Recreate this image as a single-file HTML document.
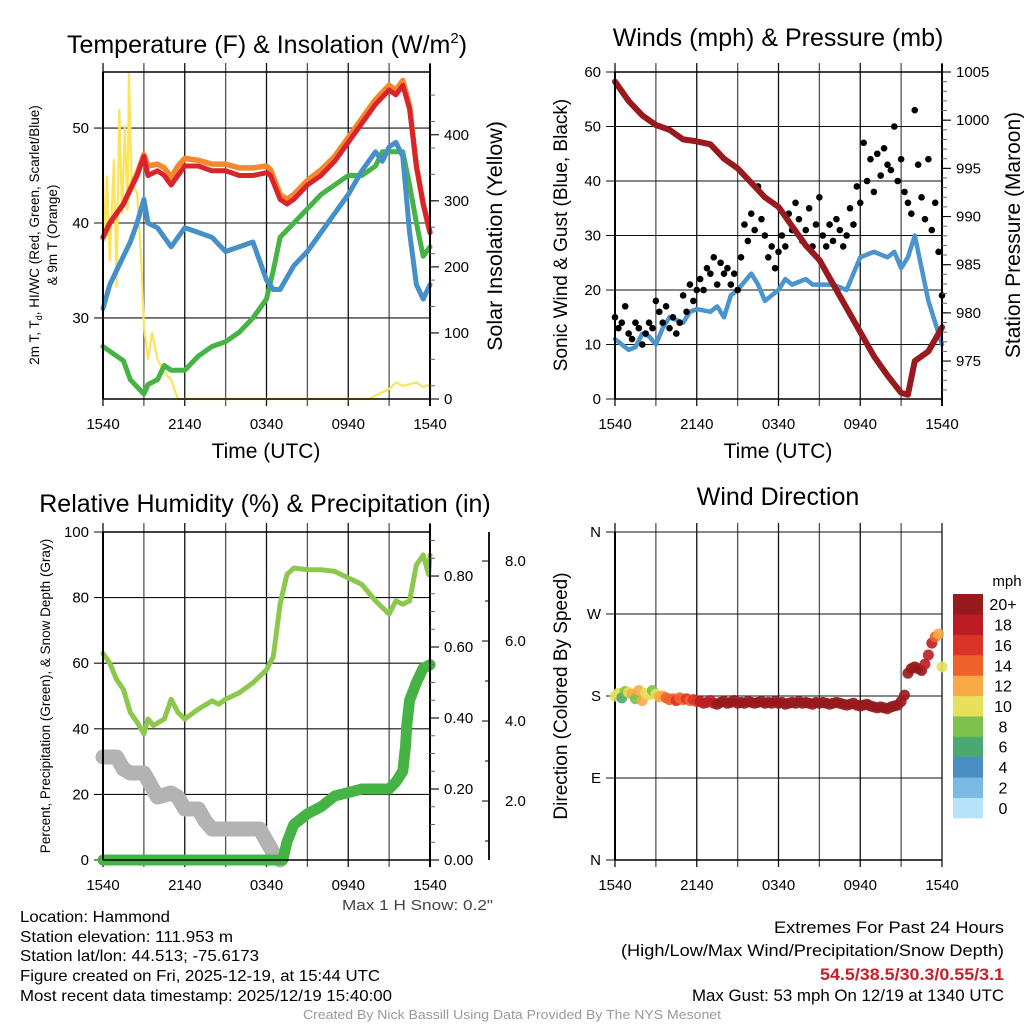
<!DOCTYPE html>
<html><head><meta charset="utf-8"><style>
html,body{margin:0;padding:0;background:#fff}
svg{display:block;font-family:"Liberation Sans",sans-serif}
</style></head><body>
<svg id="s" width="1024" height="1024" viewBox="0 0 1024 1024">
<g id="texts" font-family="Liberation Sans, sans-serif">
<text x="267" y="53" font-size="25" text-anchor="middle">Temperature (F) &amp; Insolation (W/m<tspan dy="-10" font-size="15">2</tspan><tspan dy="10">)</tspan></text>
<text x="778" y="46" font-size="25" text-anchor="middle">Winds (mph) &amp; Pressure (mb)</text>
<text x="265" y="512" font-size="25" text-anchor="middle">Relative Humidity (%) &amp; Precipitation (in)</text>
<text x="778" y="505" font-size="25" text-anchor="middle">Wind Direction</text>
<text transform="translate(39,235) rotate(-90)" font-size="13.5" text-anchor="middle">2m T, T<tspan font-size="9" dy="3">d</tspan><tspan dy="-3">, HI/WC (Red, Green, Scarlet/Blue)</tspan></text>
<text transform="translate(57,235) rotate(-90)" font-size="13.5" text-anchor="middle">&amp; 9m T (Orange)</text>
<text transform="translate(502,236) rotate(-90)" font-size="21.5" text-anchor="middle">Solar Insolation (Yellow)</text>
<text transform="translate(567,235) rotate(-90)" font-size="19" text-anchor="middle">Sonic Wind &amp; Gust (Blue, Black)</text>
<text transform="translate(1020,235) rotate(-90)" font-size="21" text-anchor="middle">Station Pressure (Maroon)</text>
<text transform="translate(50,696) rotate(-90)" font-size="13.5" text-anchor="middle">Percent, Precipitation (Green), &amp; Snow Depth (Gray)</text>
<text transform="translate(567,696) rotate(-90)" font-size="19" text-anchor="middle">Direction (Colored By Speed)</text>
<text x="266" y="458" font-size="21" text-anchor="middle">Time (UTC)</text>
<text x="778" y="458" font-size="21" text-anchor="middle">Time (UTC)</text>
<text x="342" y="910" font-size="15" textLength="151" lengthAdjust="spacingAndGlyphs" fill="#444">Max 1 H Snow: 0.2"</text>
<text x="20" y="922" font-size="16" textLength="150" lengthAdjust="spacingAndGlyphs">Location: Hammond</text>
<text x="20" y="942" font-size="16" textLength="213" lengthAdjust="spacingAndGlyphs">Station elevation: 111.953 m</text>
<text x="20" y="961" font-size="16" textLength="239" lengthAdjust="spacingAndGlyphs">Station lat/lon: 44.513; -75.6173</text>
<text x="20" y="981" font-size="16" textLength="360" lengthAdjust="spacingAndGlyphs">Figure created on Fri, 2025-12-19, at 15:44 UTC</text>
<text x="20" y="1001" font-size="16" textLength="372" lengthAdjust="spacingAndGlyphs">Most recent data timestamp: 2025/12/19 15:40:00</text>
<text x="774" y="933" font-size="17" textLength="230" lengthAdjust="spacingAndGlyphs">Extremes For Past 24 Hours</text>
<text x="621" y="956" font-size="17" textLength="383" lengthAdjust="spacingAndGlyphs">(High/Low/Max Wind/Precipitation/Snow Depth)</text>
<text x="820" y="980" font-size="17" textLength="184" lengthAdjust="spacingAndGlyphs" font-weight="bold" fill="#c8202a">54.5/38.5/30.3/0.55/3.1</text>
<text x="692" y="1001" font-size="17" textLength="312" lengthAdjust="spacingAndGlyphs">Max Gust: 53 mph On 12/19 at 1340 UTC</text>
<text x="303" y="1019" font-size="13" textLength="418" lengthAdjust="spacingAndGlyphs" fill="#999">Created By Nick Bassill Using Data Provided By The NYS Mesonet</text>
<text x="1007" y="586" font-size="15" text-anchor="middle">mph</text>
</g>
</svg>
<script>
// ---------- data ----------
const timeTickHours=[0,6,12,18,24];
const timeTickLabels=['1540','2140','0340','0940','1540'];
const tempTicks=[30,40,50];
const solarTicks=[0,100,200,300,400];
const windTicks=[0,10,20,30,40,50,60];
const presTicks=[975,980,985,990,995,1000,1005];
const rhTicks=[0,20,40,60,80,100];
const precipTicks=[0,0.2,0.4,0.6,0.8];
const precipTickLabels=['0.00','0.20','0.40','0.60','0.80'];
const snowTicks=[2,4,6,8];
const snowTickLabels=['2.0','4.0','6.0','8.0'];
const dirTicks=[0,90,180,270,360];
const dirTickLabels=['N','E','S','W','N'];
const speedBins=['0','2','4','6','8','10','12','14','16','18','20+'];
const speedColors=['#b6e3f7','#7ab9e3','#4a8fc4','#4aa871','#7cc14b','#e6e05a','#f7aa47','#f0622b','#dc3328','#bd1c24','#971a1c'];

const redHours=[0,0.5,1,1.5,2,2.5,3,3.3,4,4.5,5,5.5,6,7,8,9,10,11,12,12.3,13,13.5,14,15,16,17,18,19,20,21,21.5,22,22.5,23,23.5,24];
const redTemp=[38.5,40,41,42,43.5,45,47,45,45.5,45,44,45,46,46,45.5,45.5,45,45,45.3,45,42.5,42,42.5,44,45,46.5,48.5,50.5,52.5,54,53.5,54.5,52,46,42,39];
const orangeTemp=[38.5,40,41,42,43.6,45.2,47.2,46,46.2,45.8,44.8,46,46.8,46.6,46.2,46.2,45.8,45.8,46,45.6,43,42.5,43,44.5,45.6,47,49,51,53,54.5,54,55,52.3,46,42,39];
const blueHours=[0,0.5,1,1.5,2,2.5,3,3.3,4,5,6,7,8,9,10,11,11.5,12,12.5,13,14,15,16,17,18,19,20,20.5,21,21.5,22,22.5,23,23.5,24];
const blueTemp=[31,33.5,35,36.5,38,40,42.5,40,39.5,37.5,39.5,39,38.5,37,37.5,38,36,34,33,33,35.5,37,39,41,43,45.5,47.5,46.5,48,48.5,47,39,33.5,32,33.5];
const greenHours=[0,1,1.5,2,3,3.3,4,4.5,5,6,7,8,9,10,11,12,12.5,13,14,15,16,17,18,19,20,20.5,21,22,22.5,23,23.5,24];
const greenTemp=[27,26,25.5,23.5,22,23,23.5,25,24.5,24.5,26,27,27.5,28.5,30,32,35,38.5,40,41.5,43,44,45,45,46,47.5,47.5,47.5,44,40,36.5,37.5];
const solarHours=[0,0.15,0.3,0.5,0.8,1,1.2,1.4,1.6,1.8,1.9,2.1,2.5,2.8,3,3.3,3.6,4,4.5,5,5.5,19.5,20,21,21.5,22,23,23.5,24];
const solarVals=[339,240,337,210,362,170,438,281,413,286,494,327,312,210,110,60,100,60,40,29,0,0,5,15,25,20,25,18,22];

const windHours=[0,0.5,1,1.5,2,2.5,3,3.5,4,5,5.5,6,7,7.5,8,8.5,9,10,10.5,11,12,12.5,13,14,14.5,15,16,17,17.5,18,19,20,20.5,21,21.5,22,22.5,23,23.5,24];
const windVals=[11,10,9,9.5,12,11.5,10,13,15,14,16,16.5,16,17,15,19,20,23,21,18,20,22,21,22,21,21,21,20,23,26,27,26,27,24,26,30,24,18,14,10];
const presHours=[0,1,2,3,4,5,6,7,8,9,10,11,12,13,14,15,16,17,18,19,20,21,21.5,22,23,24];
const presVals=[1004,1002,1000.5,999.5,999,998,997.8,997.5,996,995,993.5,992,991,989,987,985.5,983,980.5,978,975.5,973.5,971.7,971.5,975,976,978.5];
const gustVals=[15,13,14,17,12,11,14,13,10,12,14,13,18,16,14,17,13,15,12,14,19,16,21,18,20,22,20,24,23,26,21,25,23,24,21,23,20,26,32,29,34,31,39,33,30,26,28,24,27,30,28,34,31,36,33,29,31,35,28,32,37,30,28,32,29,33,31,28,30,35,32,39,36,47,40,44,38,45,41,46,43,42,50,40,44,38,36,34,53,43,37,33,44,31,36,27,19];

const rhHours=[0,0.5,1,1.5,2,2.5,3,3.3,3.7,4.5,5,5.5,6,7,8,8.5,9,10,11,12,12.5,13,13.5,14,15,16,17,18,19,20,21,21.5,22,22.5,23,23.5,23.9,24];
const rhVals=[63,60,55,52,45,42,38.5,43,41,43,49,45,43,46,48.5,47.5,49,51,54,58,62,78,87,89,88.5,88.5,88,86,84,79,75,79,78,79,90,93,87,93];
const precipHours=[0,13.2,13.5,14,15,16,17,18,19,20,21,21.5,22,22.2,22.3,22.5,23,23.5,24];
const precipVals=[0,0,0.05,0.10,0.13,0.15,0.18,0.19,0.20,0.20,0.20,0.22,0.25,0.32,0.38,0.45,0.50,0.54,0.55];
const snowHours=[0,1,1.5,2,3,3.5,4,5,5.5,6,7,7.5,8,11.5,12,12.5,13];
const snowVals=[3.1,3.1,2.8,2.7,2.7,2.4,2.1,2.2,2.1,1.8,1.8,1.5,1.3,1.3,1.0,0.7,0.5];

const dirVals=[180,183,178,185,184,182,177,186,175,183,181,186,182,179,180,178,176,177,175,178,176,177,175,176,174,
174,172,173,175,172,171,173,174,172,173,175,172,173,172,174,173,172,173,174,172,173,172,174,172,173,171,172,173,172,174,172,173,172,171,173,172,173,172,171,172,173,172,171,170,171,172,170,169,170,171,169,168,167,168,167,166,168,169,170,174,
181,205,210,212,210,208,215,225,238,245,248,212];
const dirSpeeds=[10,10,7,8,10,12,8,12,12,10,10,8,10,12,13,14,15,14,16,14,14,16,15,16,17,
18,18,19,18,19,20,20,20,20,20,21,20,20,20,21,20,20,21,20,20,20,20,21,20,20,20,20,21,20,20,20,20,21,20,20,20,20,21,20,20,20,20,21,20,20,20,20,21,20,20,20,20,20,21,20,20,20,20,20,20,
20,20,20,20,20,20,19,18,18,14,12,10];

// ---------- drawing ----------
const NS='http://www.w3.org/2000/svg';
const svg=document.getElementById('s');
function mk(tag,attrs,parent){const e=document.createElementNS(NS,tag);for(const k in attrs)e.setAttribute(k,attrs[k]);(parent||svg).appendChild(e);return e;}
function lin(d0,d1,r0,r1){return v=>r0+(v-d0)/(d1-d0)*(r1-r0);}

function panel(name,x0,x1,y0,y1){
  const g=mk('g',{});
  
  
  const x=lin(0,24,x0,x1);
  return {g,x,x0,x1,y0,y1};
}
function grid(p,yTicks,ys){
  for(let h=0;h<=24;h+=3){
    const l=mk('line',{x1:p.x(h),x2:p.x(h),y1:p.y0-9,y2:p.y1+7,stroke:(h%6==0)?'#111':'#555','stroke-width':1.3},p.g);
    
    
  }
  yTicks.forEach(v=>{
    const l=mk('line',{x1:p.x0-9,x2:p.x1,y1:ys(v),y2:ys(v),stroke:'#111','stroke-width':1.1},p.g);
    
    
  });
}
function frame(p,top){
  if(top!==false){const t=mk('line',{x1:p.x0,x2:p.x1,y1:p.y0,y2:p.y0,stroke:'#000','stroke-width':1.5},p.g);
  
  }
  const b=mk('line',{x1:p.x0,x2:p.x1,y1:p.y1,y2:p.y1,stroke:'#000','stroke-width':1.5},p.g);
  
  
  const l=mk('line',{x1:p.x0,x2:p.x0,y1:p.y0,y2:p.y1,stroke:'#000','stroke-width':2},p.g);
  
  
}
function rightAxis(p,ticks,labels,ys,minor,minorScale){
  const l=mk('line',{x1:p.x1,x2:p.x1,y1:p.y0-8,y2:p.y1+7,stroke:'#000','stroke-width':2},p.g);
  
  
  if(minor)minor.forEach(v=>{const t=mk('line',{x1:p.x1,x2:p.x1+5,y1:minorScale(v),y2:minorScale(v),stroke:'#666','stroke-width':1},p.g);
    
    });
  ticks.forEach((v,i)=>{
    const t=mk('line',{x1:p.x1,x2:p.x1+9,y1:ys(v),y2:ys(v),stroke:'#000','stroke-width':1.1},p.g);
    
    
    const tx=mk('text',{x:p.x1+14,y:ys(v)+5,'font-size':15},p.g);
    
    
    tx.textContent=labels[i];
  });
}
function leftLabels(p,ticks,labels,ys){
  ticks.forEach((v,i)=>{
    const tx=mk('text',{x:p.x0-14,y:ys(v)+5,'font-size':15,'text-anchor':'end'},p.g);
    
    
    tx.textContent=labels[i];
  });
}
function xLabels(p){
  timeTickHours.forEach((h,i)=>{
    const tx=mk('text',{x:p.x(h),y:p.y1+30,'font-size':15,'text-anchor':'middle'},p.g);
    
    
    tx.textContent=timeTickLabels[i];
  });
}
function line(p,hours,vals,ys,color,w,name,clampY){
  const pts=hours.map((h,i)=>{let y=ys(vals[i]);if(clampY!==undefined)y=Math.min(y,clampY);return p.x(h).toFixed(1)+','+y.toFixed(1);}).join(' ');
  const e=mk('polyline',{points:pts,fill:'none',stroke:color,'stroke-width':w,'stroke-linejoin':'round','stroke-linecap':'round'},p.g);
  
  
}
function speedColor(s){let i=Math.floor(s/2);if(i>10)i=10;if(i<0)i=0;return speedColors[i];}

// Panel 1: temperature
{
  const p=panel('temperature-panel',103,430,72,399);
  const yT=lin(21.47,55.9,399,72), yS=lin(0,495,399,72);
  grid(p,tempTicks,yT);
  line(p,solarHours,solarVals,yS,'#fde35a',2.2,'solar-line');
  line(p,greenHours,greenTemp,yT,'#46b345',5,'dewpoint-line');
  line(p,blueHours,blueTemp,yT,'#4590c9',5,'windchill-line');
  line(p,redHours,orangeTemp,yT,'#f5882c',5.5,'temp-9m-line');
  line(p,redHours,redTemp,yT,'#d8242a',5,'temp-2m-line');
  frame(p);
  const minors=[];for(let v=20;v<=480;v+=40)minors.push(v);
  rightAxis(p,solarTicks,solarTicks.map(String),yS,minors,yS);
  leftLabels(p,tempTicks,tempTicks.map(String),yT);
  xLabels(p);
}
// Panel 2: winds
{
  const p=panel('wind-panel',615,942,72,399);
  const yW=lin(0,60,399,72), yP=lin(971.06,1005,399,72);
  grid(p,windTicks,yW);
  line(p,windHours,windVals,yW,'#4a94d0',4.5,'sonic-wind-line');
  gustVals.forEach((v,i)=>{
    const c=mk('circle',{cx:p.x(i*0.25),cy:yW(v),r:3.3,fill:'#000'},p.g);
    
    
  });
  line(p,presHours,presVals,yP,'#991a1e',6,'pressure-line');
  frame(p);
  const minors=[];for(let v=972;v<=1005;v+=1)minors.push(v);
  rightAxis(p,presTicks,presTicks.map(String),yP,minors,yP);
  leftLabels(p,windTicks,windTicks.map(String),yW);
  xLabels(p);
}
// Panel 3: RH & precip
{
  const p=panel('humidity-panel',103,430,532,860);
  const yR=lin(0,100,860,532), yPr=lin(0,0.924,860,532), ySn=lin(0,2,881,801);
  grid(p,rhTicks,yR);
  line(p,snowHours,snowVals,ySn,'#b3b3b3',15,'snow-depth-line',860);
  line(p,rhHours,rhVals,yR,'#8cc84b',5,'rh-line');
  line(p,precipHours,precipVals,yPr,'#45b445',11,'precip-line');
  frame(p,true);
  const minors=[];for(let v=0.05;v<0.92;v+=0.05)minors.push(v);
  rightAxis(p,precipTicks,precipTickLabels,yPr,minors,yPr);
  leftLabels(p,rhTicks,rhTicks.map(String),yR);
  const ax=mk('line',{x1:489,x2:489,y1:532,y2:860,stroke:'#000','stroke-width':1.8},p.g);
  
  
  for(let v=1;v<=9;v+=1){if(ySn(v)<532)break;const t=mk('line',{x1:489,x2:v%2==0?482:485,y1:ySn(v),y2:ySn(v),stroke:'#000','stroke-width':1},p.g);
    
    }
  snowTicks.forEach((v,i)=>{const tx=mk('text',{x:505,y:ySn(v)+5,'font-size':15},p.g);
    
    
    tx.textContent=snowTickLabels[i];});
  xLabels(p);
}
// Panel 4: wind direction
{
  const p=panel('direction-panel',615,942,532,860);
  const yD=lin(0,360,860,532);
  grid(p,dirTicks,yD);
  frame(p,false);
  dirVals.forEach((v,i)=>{
    const c=mk('circle',{cx:p.x(i*0.25),cy:yD(v),r:5.5,fill:speedColor(dirSpeeds[i]),'fill-opacity':0.9},p.g);
    
    
  });
  leftLabels(p,dirTicks,dirTickLabels,yD);
  xLabels(p);
  const h=(818-594)/speedBins.length;
  speedBins.forEach((b,i)=>{
    const yy=818-(i+1)*h;
    const r=mk('rect',{x:953,y:yy,width:30,height:h+0.3,fill:speedColors[i]},p.g);
    
    
    const tx=mk('text',{x:1003,y:yy+h/2+6,'font-size':16,'text-anchor':'middle'},p.g);
    
    
    tx.textContent=b;
  });
}
</script>
</body></html>
